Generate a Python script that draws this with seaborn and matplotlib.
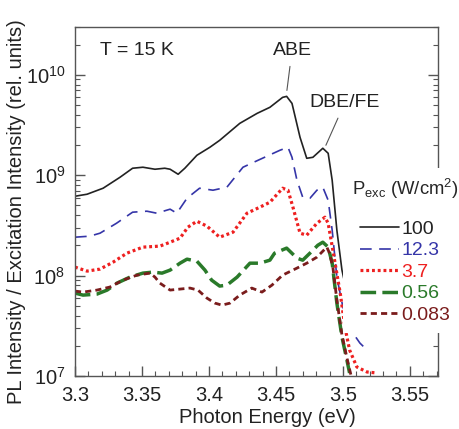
import numpy as np
import pandas as pd
import matplotlib
matplotlib.use("Agg")
import matplotlib.pyplot as plt
import seaborn as sns
from matplotlib.ticker import MultipleLocator, LogLocator, LogFormatterMathtext, NullFormatter

# ---------------- data ----------------
labels = ["100", "12.3", "3.7", "0.56", "0.083"]

e_100 = [3.300, 3.309, 3.321, 3.3336, 3.343, 3.3507, 3.3597, 3.367, 3.371, 3.377, 3.382, 3.391,
         3.4007, 3.408, 3.423, 3.436, 3.4455, 3.455, 3.458, 3.462, 3.468, 3.473, 3.4776, 3.485,
         3.489, 3.492, 3.4955, 3.4993, 3.503, 3.506]
log_100 = [8.791, 8.811, 8.871, 8.980, 9.070, 9.080, 9.060, 9.070, 9.060, 9.010, 9.070, 9.199,
           9.279, 9.348, 9.517, 9.617, 9.677, 9.776, 9.786, 9.716, 9.378, 9.169, 9.179, 9.269,
           9.219, 8.950, 8.453, 8.055, 7.826, 7.736]

e_12 = [3.300, 3.311, 3.3187, 3.331, 3.343, 3.3537, 3.361, 3.371, 3.376, 3.3836, 3.393, 3.403,
        3.4134, 3.4254, 3.4366, 3.453, 3.459, 3.462, 3.4657, 3.470, 3.4754, 3.4806, 3.485,
        3.489, 3.492, 3.4955, 3.500, 3.5075, 3.5127, 3.518]
log_12 = [8.383, 8.393, 8.423, 8.522, 8.632, 8.642, 8.622, 8.662, 8.622, 8.771, 8.871, 8.851,
          8.881, 9.080, 9.149, 9.249, 9.279, 9.179, 8.950, 8.781, 8.771, 8.851, 8.881,
          8.751, 8.453, 7.985, 7.687, 7.428, 7.328, 7.259]

e_37 = [3.300, 3.309, 3.3187, 3.3284, 3.3388, 3.3507, 3.3634, 3.371, 3.3784, 3.3843, 3.391,
        3.3985, 3.408, 3.418, 3.4284, 3.438, 3.4455, 3.455, 3.459, 3.4627, 3.468, 3.473,
        3.4806, 3.4866, 3.489, 3.4925, 3.498, 3.5015, 3.505, 3.5104, 3.518, 3.5254]
log_37 = [8.085, 8.045, 8.065, 8.134, 8.224, 8.284, 8.294, 8.333, 8.373, 8.483, 8.542,
          8.493, 8.383, 8.433, 8.622, 8.682, 8.731, 8.871, 8.851, 8.682, 8.423, 8.403,
          8.522, 8.582, 8.522, 8.254, 7.826, 7.488, 7.259, 7.090, 7.040, 7.030]

e_056 = [3.300, 3.306, 3.3164, 3.324, 3.3313, 3.341, 3.3507, 3.358, 3.365, 3.371, 3.3784,
         3.3836, 3.391, 3.397, 3.402, 3.408, 3.4134, 3.421, 3.4306, 3.438, 3.4455, 3.449,
         3.458, 3.4657, 3.470, 3.4754, 3.4813, 3.485, 3.489, 3.492, 3.4955, 3.4993, 3.503, 3.505]
log_056 = [7.826, 7.806, 7.816, 7.856, 7.925, 7.985, 8.025, 8.035, 8.025, 8.055, 8.124,
           8.164, 8.144, 8.055, 7.955, 7.896, 7.905, 7.985, 8.124, 8.124, 8.154, 8.224,
           8.274, 8.174, 8.154, 8.224, 8.303, 8.333, 8.284, 8.124, 7.726, 7.388, 7.159, 7.030]

e_0083 = [3.300, 3.306, 3.3164, 3.326, 3.3358, 3.3463, 3.356, 3.3597, 3.3634, 3.371, 3.3784,
          3.3858, 3.3918, 3.3985, 3.4045, 3.4097, 3.4157, 3.423, 3.432, 3.4396, 3.447, 3.455,
          3.4657, 3.473, 3.4806, 3.488, 3.490, 3.4925, 3.4955, 3.4993, 3.503, 3.506]
log_0083 = [7.846, 7.836, 7.856, 7.886, 7.955, 8.005, 8.025, 7.985, 7.925, 7.856, 7.866,
            7.876, 7.856, 7.776, 7.726, 7.706, 7.726, 7.806, 7.876, 7.836, 7.905, 8.005,
            8.075, 8.124, 8.184, 8.284, 8.224, 8.085, 7.756, 7.408, 7.179, 7.010]

energies = [e_100, e_12, e_37, e_056, e_0083]
log_intensities = [log_100, log_12, log_37, log_056, log_0083]

colors = ["#222222", "#3535a8", "#ee2020", "#2a7a2a", "#7a1c1c"]
styles = ["-", (0, (7, 4.5)), (0, (0.9, 0.9)), (0, (4.5, 1.8)), (0, (2.2, 1.5))]
widths = [1.2, 1.2, 2.3, 2.5, 2.0]

# ---------------- figure ----------------
sns.set_theme(style="white")
plt.rcParams["font.family"] = ["Liberation Sans", "DejaVu Sans"]
plt.rcParams["mathtext.fontset"] = "custom"
plt.rcParams["mathtext.rm"] = "Liberation Sans"
plt.rcParams["mathtext.it"] = "Liberation Sans:italic"
plt.rcParams["mathtext.bf"] = "Liberation Sans:bold"

W, H = 459, 429
fig = plt.figure(figsize=(W / 100, H / 100), dpi=100)
ax = fig.add_axes([75 / W, 1 - 376 / H, (438 - 75) / W, (376 - 27) / H])

for lab, e, lg, c, ls, lw in zip(labels, energies, log_intensities, colors, styles, widths):
    df = pd.DataFrame({"E": e, "I": 10 ** np.asarray(lg)})
    sns.lineplot(data=df, x="E", y="I", ax=ax, color=c, linestyle=ls, linewidth=lw,
                 estimator=None, sort=False, label=lab, dash_capstyle="butt")

ax.set_yscale("log")
ax.set_xlim(3.3, 3.571)
ax.set_ylim(1e7, 3e10)

ax.xaxis.set_major_locator(MultipleLocator(0.05))
ax.xaxis.set_minor_locator(MultipleLocator(0.01))
ax.xaxis.set_major_formatter(matplotlib.ticker.FuncFormatter(
    lambda v, p: f"{v:.2f}".rstrip("0").rstrip(".")))
ax.yaxis.set_major_locator(LogLocator(base=10, numticks=10))
ax.yaxis.set_minor_locator(LogLocator(base=10, subs=np.arange(2, 10), numticks=20))
ax.yaxis.set_major_formatter(LogFormatterMathtext())
ax.yaxis.set_minor_formatter(NullFormatter())

spine_c = "#555555"
for s in ax.spines.values():
    s.set_color(spine_c)
    s.set_linewidth(1.0)
ax.tick_params(which="both", direction="in", colors=spine_c, labelcolor="#222222",
               top=False, right=True, bottom=True, left=True, labelsize=14.5)
ax.tick_params(which="major", length=7, width=1.0, pad=7)
ax.tick_params(which="minor", length=3.5, width=0.8)

ax.set_xlabel("Photon Energy (eV)", fontsize=14.5, color="#222222")
ax.set_ylabel("PL Intensity / Excitation Intensity (rel. units)", fontsize=14.5, color="#222222")
ax.xaxis.set_label_coords(0.529, -0.092)
ax.yaxis.set_label_coords(-0.135, 0.47)

# annotations
ax.text(0.069, 0.934, "T = 15 K", transform=ax.transAxes, fontsize=14, va="center", ha="left",
        color="#222222")
ax.annotate("ABE", xy=(3.4582, 7.0e9), xytext=(3.462, 1.75e10), fontsize=14, ha="center",
            va="center", color="#222222",
            arrowprops=dict(arrowstyle="-", color="#555555", lw=0.8, shrinkA=3, shrinkB=0))
ax.annotate("DBE/FE", xy=(3.4873, 1.99e9), xytext=(3.5015, 5.3e9), fontsize=14, ha="center",
            va="center", color="#222222",
            arrowprops=dict(arrowstyle="-", color="#555555", lw=0.8, shrinkA=3, shrinkB=0))

# legend
leg = ax.legend(title=r"P$_{\rm exc}$ (W/cm$^2$)", loc="upper left",
                bbox_to_anchor=(343 / W, 1 - 168 / H), bbox_transform=fig.transFigure,
                frameon=True, fancybox=False, framealpha=1.0, edgecolor="none", facecolor="white",
                fontsize=14, title_fontsize=13.3, handlelength=2.0, handletextpad=0.15,
                labelspacing=0.2, borderpad=0.45, borderaxespad=0.0, labelcolor="linecolor")
leg._legend_box.sep = 14
leg.set_zorder(10)

fig.savefig("out.png", dpi=100)
